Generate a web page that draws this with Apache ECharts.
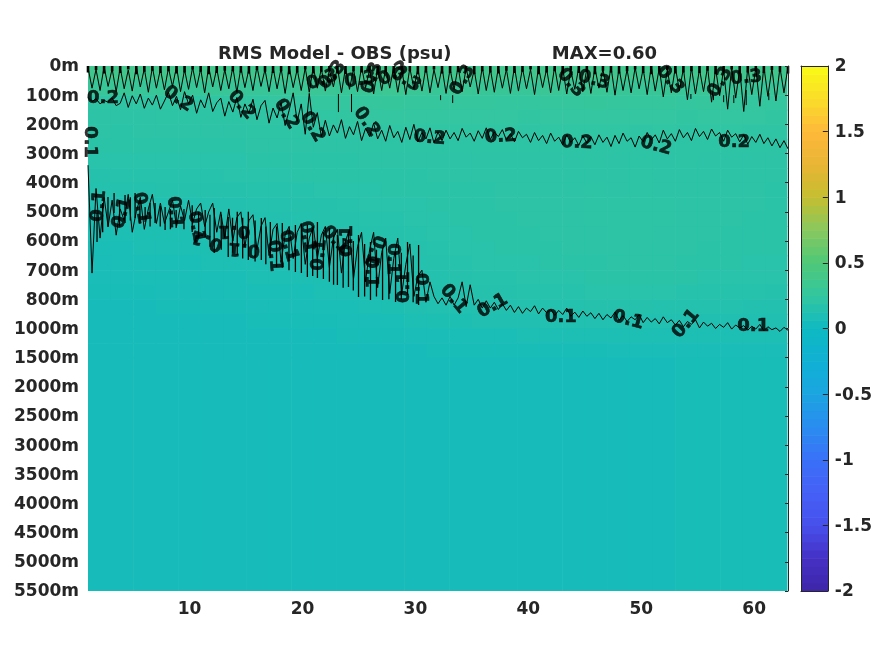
<!DOCTYPE html>
<html>
<head>
<meta charset="utf-8">
<style>html,body{margin:0;padding:0;background:#fff}#c{width:875px;height:656px}</style>
<script src="https://cdn.jsdelivr.net/npm/echarts@6/dist/echarts.min.js"></script>
</head>
<body>
<div id="c"></div>
<script>
const titleText = 'RMS Model - OBS (psu)                MAX=0.60';
const depthLabels = ['0m','100m','200m','300m','400m','500m','600m','700m','800m','1000m','1500m','2000m','2500m','3000m','3500m','4000m','4500m','5000m','5500m'];
const xTicks = [10,20,30,40,50,60];
const colourStops = ['#3e26a8','#4530c4','#4750ec','#4560f6','#3a70f8','#2a8cf0','#1ba4e0','#10b0d3','#0eb9c2','#33c6a0','#4ec878','#88c860','#c4be30','#e8b535','#feb83a','#fadc2a','#f9fb15'];

const colEdges = [1,3,5,7,9,11,13,15,17,19,21,23,25,27,29,31,33,35,37,39,41,43,45,47,49,51,53,55,57,59,61,62.9];
const rowEdges = [0,0.5,1,1.5,2,2.5,3,3.5,4,4.5,5,5.5,6,6.5,7,7.5,8,8.5,9,9.5,10,18];
const fieldRows = [
[.37,.38,.36,.38,.37,.39,.37,.36,.37,.38,.39,.37,.38,.39,.38,.36,.37,.36,.37,.36,.38,.37,.38,.37,.36,.37,.36,.38,.37,.36,.36],
[.30,.31,.30,.31,.30,.31,.30,.30,.31,.32,.32,.31,.32,.33,.32,.31,.32,.31,.31,.30,.32,.31,.32,.31,.30,.31,.30,.32,.31,.30,.30],
[.22,.22,.23,.23,.23,.23,.24,.24,.25,.25,.26,.26,.27,.28,.27,.27,.27,.27,.26,.26,.27,.27,.28,.27,.27,.27,.26,.27,.27,.26,.26],
[.20,.20,.20,.21,.21,.21,.21,.22,.22,.23,.23,.24,.25,.25,.25,.25,.25,.25,.25,.24,.25,.25,.25,.25,.25,.25,.24,.25,.25,.25,.24],
[.20,.19,.20,.20,.20,.20,.20,.21,.21,.21,.22,.22,.22,.23,.23,.23,.23,.23,.23,.22,.23,.23,.23,.23,.22,.23,.22,.23,.23,.22,.22],
[.19,.19,.19,.19,.19,.19,.19,.20,.20,.20,.20,.20,.21,.21,.21,.21,.21,.21,.21,.21,.21,.21,.21,.21,.21,.21,.21,.21,.21,.21,.21],
[.18,.18,.18,.18,.18,.18,.18,.19,.19,.19,.19,.19,.20,.20,.20,.20,.20,.20,.20,.20,.20,.20,.21,.20,.21,.20,.21,.20,.20,.20,.20],
[.16,.17,.17,.17,.17,.17,.18,.18,.18,.19,.19,.19,.19,.19,.19,.20,.20,.20,.20,.20,.20,.20,.20,.20,.21,.20,.20,.20,.20,.20,.20],
[.15,.15,.15,.16,.16,.16,.16,.17,.17,.17,.18,.18,.18,.19,.19,.19,.19,.19,.20,.20,.20,.20,.21,.20,.21,.20,.20,.20,.20,.20,.19],
[.12,.12,.13,.13,.13,.14,.14,.15,.15,.16,.16,.17,.18,.18,.18,.19,.19,.19,.20,.20,.20,.20,.21,.21,.21,.21,.20,.20,.20,.20,.19],
[.11,.11,.12,.12,.12,.13,.13,.14,.14,.15,.16,.16,.17,.17,.18,.18,.19,.19,.19,.20,.20,.20,.21,.21,.21,.21,.20,.20,.20,.19,.19],
[.10,.10,.11,.11,.11,.12,.12,.13,.13,.13,.14,.15,.16,.16,.17,.18,.18,.19,.19,.19,.20,.20,.20,.21,.21,.20,.20,.20,.19,.19,.19],
[.09,.09,.10,.10,.10,.11,.11,.11,.12,.12,.13,.14,.15,.15,.16,.17,.18,.18,.19,.19,.19,.20,.20,.20,.20,.20,.20,.19,.19,.19,.19],
[.08,.09,.09,.09,.09,.10,.10,.10,.11,.11,.12,.13,.13,.14,.15,.16,.17,.18,.18,.18,.19,.19,.19,.20,.20,.20,.19,.19,.19,.18,.18],
[.08,.08,.09,.09,.09,.09,.09,.10,.10,.10,.11,.11,.12,.13,.14,.15,.16,.17,.17,.18,.18,.18,.19,.19,.19,.19,.19,.18,.18,.18,.18],
[.07,.07,.07,.08,.08,.08,.09,.09,.09,.09,.10,.10,.11,.12,.13,.14,.15,.16,.16,.17,.17,.17,.18,.18,.18,.18,.17,.17,.17,.17,.16],
[.06,.06,.06,.07,.07,.07,.07,.08,.08,.08,.09,.09,.10,.11,.12,.13,.13,.14,.14,.15,.15,.15,.16,.16,.16,.15,.15,.15,.15,.14,.14],
[.06,.06,.06,.06,.06,.06,.06,.07,.07,.07,.07,.08,.08,.09,.10,.11,.11,.12,.12,.12,.13,.13,.13,.13,.13,.13,.13,.12,.12,.12,.12],
[.06,.06,.06,.06,.06,.06,.06,.06,.06,.06,.06,.07,.07,.07,.08,.08,.09,.09,.09,.10,.10,.10,.10,.10,.10,.10,.10,.10,.10,.10,.10],
[.06,.06,.06,.06,.06,.06,.06,.06,.06,.06,.06,.06,.06,.06,.06,.07,.07,.07,.07,.07,.07,.07,.07,.08,.08,.08,.08,.08,.08,.08,.08],
[.06,.06,.06,.06,.06,.06,.06,.06,.06,.06,.06,.06,.06,.06,.06,.06,.06,.06,.06,.06,.06,.06,.06,.06,.06,.06,.07,.07,.07,.07,.07],
[.06,.06,.06,.06,.06,.06,.06,.06,.06,.06,.06,.06,.06,.06,.06,.06,.06,.06,.06,.06,.06,.06,.06,.06,.06,.06,.06,.06,.06,.06,.06]
];

const contour03 = [
.05,.76,.12,.84,.03,.70,.10,.88,.06,.78,.14,.86,.02,.72,.09,.90,.04,.76,.11,.82,
.07,.70,.02,.88,.13,.80,.05,.74,.10,.92,.03,.72,.08,.84,.12,.78,.04,.90,.06,.74,
.10,.84,.02,.70,.12,.88,.05,.78,.08,.94,.03,.74,.11,.84,.06,.90,.02,.76,.09,.86,
.13,.72,.04,.92,.07,.80,.10,.88,.03,.74,.12,.96,.05,.84,.08,.76,.02,.90,.11,.98,
.06,.78,.09,.86,.03,.92,.12,.74,.05,.94,.10,.80,.02,.88,.07,.72,.13,.96,.04,.84,
.09,.90,.06,.76,.11,.94,.03,.86,.08,.78,.12,.98,.05,.74,.10,.92,.02,.84,.07,.96,
.13,.80,.04,.88,.09,.94,.06,.76,.11,.90,.03,1.00,.08,.84,.12,.92,.05,.78,.10,.98,
.02,.86,.07,1.06,.13,.92,.04,.84,.09,1.16,.06,.96,.11,.88,.03,1.24,.08,1.02,.12,1.48,
.05,1.10,.10,1.56,.04,.98,.07,1.38,.02,1.04,.08,1.20,.05,.92,.02];
const contour03Cap = [
.22,.14,.26,.18,.24,.12,.28,.20,.16,.24,.18,.26,.22,.12,.20,.28,.24,.16,.18,.22,
.26,.14,.20,.24,.18,.28,.22,.12,.26,.20,.16,.24,.28,.18,.22,.14,.26,.20,.24,.16,
.18,.28,.22,.12,.26,.24,.20,.14,.28,.18,.22,.26,.16,.24,.20,.12,.28,.22,.18,.26,
.14,.24,.20,.28,.16,.22,.26,.18,.12,.24,.28,.20,.14,.26,.22,.18,.24,.16,.28,.20,
.12,.26,.22,.18,.24,.14,.20,.26];
const contour03Islands = [[23.18,.96,1.58],[24.34,.96,1.58],[32.23,1,1.17],[33.3,1,1.27],[54.4,.96,1.13],[56.4,1,1.17],[57.3,1,1.24],[58.2,1,1.27],[59.3,.82,1.34],[61.3,.93,1.17]];
const contour02 = [
1.08,1.22,1.12,1.30,1.18,1.24,1.10,1.36,1.28,
.92,1.42,1.02,1.30,.96,1.45,1.10,1.34,1.00,1.48,1.20,
.90,1.36,1.04,1.50,.88,1.30,1.00,1.62,1.16,1.44,.92,1.56,1.26,
1.10,1.72,1.22,1.58,1.08,1.76,1.30,1.62,1.14,1.84,1.36,
1.18,1.96,1.44,1.78,1.26,2.04,1.52,.92,1.90,1.30,2.34,.94,2.10,1.60,2.42,
1.86,2.40,2.02,2.30,1.84,2.48,2.08,2.36,1.90,2.56,2.14,2.42,1.96,2.50,2.20,2.58,2.04,2.46,2.24,2.62,2.10,2.52,2.00,2.60,2.28,2.50,2.12,2.64,2.26,2.56,
2.20,2.50,2.28,2.56,2.14,2.44,2.30,2.58,2.22,2.48,2.12,2.52,2.26,2.42,2.18,2.54,2.32,2.60,2.24,2.46,2.34,2.62,2.28,2.56,2.38,2.66,2.30,2.58,2.44,2.70,2.36,2.62,2.46,2.72,2.40,2.64,
2.42,2.70,2.36,2.62,2.44,2.76,2.38,2.66,2.30,2.58,2.46,2.78,2.40,2.60,2.28,2.54,2.36,2.64,2.20,2.50,2.32,2.58,2.18,2.46,2.28,2.56,2.14,2.42,2.24,
2.52,2.16,2.40,2.28,2.58,2.20,2.44,2.32,2.60,2.36,2.68,2.42,2.62,2.34,2.66,2.46,2.74,2.50,2.80,2.56,2.84];
const contour01 = [
3.4,7.1,4.2,5.9,4.5,5.5,4.6,5.8,4.9,5.3,4.4,5.7,5.0,4.5,5.6,4.9,4.4,5.4,4.7,5.4,5.0,4.6,5.5,4.8,5.3,4.6,5.4,4.9,4.7,5.5,5.0,4.7,5.7,5.0,5.9,4.9,6.0,5.2,5.0,6.2,5.3,5.1,6.3,5.5,5.2,6.5,5.6,5.4,6.7,5.8,5.5,6.6,5.7,5.4,6.8,5.9,5.5,6.6,5.8,5.5,6.9,5.9,5.6,7.1,6.0,5.6,7.3,6.2,5.7,7.4,6.3,5.7,7.6,6.4,5.9,7.8,6.6,5.9,7.8,6.8,6.1,7.9,7.2,7.0,8.1,7.4,7.9,
8.15,7.95,8.2,7.9,8.2,7.95,7.4,8.25,7.5,8.2,8.0,8.3,8.05,8.3,8.1,8.35,
8.15,8.38,8.2,8.45,8.25,8.48,8.3,8.42,8.22,8.5,8.3,8.46,8.34,8.55,8.38,8.52,8.3,8.58,8.44,8.62,8.4,8.58,8.46,8.66,8.48,8.7,8.52,8.64,8.44,8.72,8.56,8.76,8.6,8.7,8.52,8.8,8.62,8.78,8.66,8.84,8.6,8.8,8.7,8.88,8.72,8.94,8.76,8.86,8.7,8.98,8.78,8.92,8.82,9.0,8.86,8.96,8.8,9.02,8.88,8.98,8.9,9.06,8.92,9.02,8.86,9.08,8.94,9.04,8.98,9.1,8.96,9.06];
const contour01Spikes = [[1.8,5.04,6.03],[2.77,4.49,5.52],[3.31,4.35,5.04],[4.28,4.42,5.38],[5.17,4.35,5.21],[6.06,4.83,5.35],[6.94,4.7,5.38],[7.83,4.83,5.62],[8.81,4.94,5.55],[10.23,4.77,5.69],[11.38,4.94,5.86],[12.18,4.87,6.41],[13.42,5.18,6.55],[14.22,5.0,6.48],[15.2,5.0,6.65],[16.35,5.21,6.65],[17.15,5.35,6.58],[18.21,5.38,6.92],[19.37,5.45,7.06],[20.43,5.45,7.23],[21.32,5.35,7.27],[22.38,5.55,7.4],[23.09,5.79,7.51],[24.07,5.69,7.58],[24.96,5.79,7.92],[26.02,6.03,8.02],[27.09,6.24,8.02],[28.24,6.38,8.09],[29.3,6.03,7.85],[30.28,6.14,8.19],
[2.3,4.7,5.7],[3.8,4.6,5.5],[4.75,4.5,5.3],[5.6,4.6,5.4],[6.5,4.7,5.5],[7.4,4.8,5.5],[8.3,4.9,5.6],[9.5,4.9,5.6],[10.8,5.0,5.9],[11.8,5.1,6.2],[12.8,5.1,6.3],[13.8,5.2,6.4],[14.7,5.2,6.6],[15.8,5.3,6.7],[16.75,5.5,6.8],[17.7,5.5,6.9],[18.8,5.6,7.0],[19.9,5.6,7.1],[20.9,5.6,7.2],[21.85,5.7,7.3],[22.75,5.8,7.5],[23.6,5.9,7.6],[24.5,6.0,7.7],[25.5,6.1,7.9],[26.55,6.3,7.9],[27.65,6.5,8.0],[28.75,6.4,8.0],[29.8,6.5,8.1]];

const labelX = [2.33,8.99,14.58,18.57,20.88,25.67,31.26,37.56,44.3,51.31,58.23, 21.76,22.65,25.13,26.2,28.06,29.13,34.19,43.77,45.81,52.55,56.99,59.3, 1.18,1.98,4.02,5.7,8.63,10.58,11.56,13.95,14.84,17.5,18.75,20.43,21.5,22.92,23.98,26.02,26.38,27.97,29.04,30.46,33.39,36.85,42.88,48.83,53.97,59.92];
const labelD = [1.10,1.13,1.34,1.65,2.09,1.92,2.47,2.43,2.64,2.74,2.61, .48,.31,.48,.41,.27,.48,.48,.58,.48,.48,.55,.41, 2.61,4.8,5.04,4.87,5.01,5.52,5.97,5.66,6.27,6.51,6.17,5.86,6.48,5.97,6.0,7.06,6.34,6.62,7.58,7.64,7.99,8.23,8.6,8.71,8.84,8.91];
const labelText = ['0.2','0.2','0.2','0.2','0.2','0.2','0.2','0.2','0.2','0.2','0.2', '0.3','0.3','0.3','0.3','0.3','0.3','0.3','0.3','0.3','0.3','0.3','0.3', '0.1','0.1','0.1','0.1','0.1','0.1','0.1','0.1','0.1','0.1','0.1','0.1','0.1','0.1','0.1','0.1','0.1','0.1','0.1','0.1','0.1','0.1','0.1','0.1','0.1','0.1'];
const labelRot = [0,-35,-50,-60,-60,-55,-5,3,-2,-15,0, 20,50,10,70,30,-30,60,-50,-15,-50,60,5, -90,85,75,-80,-85,-80,160,180,175,-85,-75,-80,85,-45,90,-90,-110,-90,90,-90,-50,30,0,-15,50,0];

const ink = '#262626';
const font = {fontFamily:'DejaVu Sans',fontWeight:'bold',fontSize:17,color:ink};

const fieldData = [];
fieldRows.forEach((row,r)=>row.forEach((v,c)=>fieldData.push([colEdges[c],colEdges[c+1],rowEdges[r],rowEdges[r+1],v])));
const bandData = [];
for(let i=0;i<64;i++){const lo=-2+i/16;bandData.push([0,1,lo,lo+1/16,lo+1/32]);}
const along = (arr)=>arr.map((d,i)=>[1+i*62/(arr.length-1),d]);
const strokes = (list)=>{const out=[];list.forEach(s=>{out.push([s[0],s[1]],[s[0],s[2]],[null,null]);});return out;};
const capStrokes = contour03Cap.map((d,i)=>[1+i*62/(contour03Cap.length-1),0,d]);

function renderCell(p,api){
  const a=api.coord([api.value(0),api.value(2)]),b=api.coord([api.value(1),api.value(3)]);
  return {type:'rect',shape:{x:Math.min(a[0],b[0]),y:Math.min(a[1],b[1]),width:Math.abs(b[0]-a[0])+.6,height:Math.abs(b[1]-a[1])+.6},style:{fill:api.visual('color')}};
}
const lineSeries=(name,data,w)=>({name,type:'line',xAxisIndex:0,yAxisIndex:0,data,showSymbol:false,symbol:'none',connectNulls:false,lineStyle:{color:'#000',width:w||0.9},z:5,animation:false,clip:true});

const chart = echarts.init(document.getElementById('c'),null,{renderer:'canvas'});
chart.setOption({
  animation:false,
  backgroundColor:'#fff',
  title:{text:titleText,left:432.5,textAlign:'center',top:40,textStyle:{fontFamily:'DejaVu Sans',fontWeight:'bold',fontSize:18,color:ink}},
  grid:[{left:88,top:66,width:700,height:525},{left:801,top:66,width:27,height:525}],
  xAxis:[
    {gridIndex:0,type:'value',min:1,max:63,position:'bottom',splitLine:{show:false},axisLine:{show:true,lineStyle:{color:ink,width:1}},axisTick:{show:false},axisLabel:Object.assign({margin:10,customValues:xTicks},font)},
    {gridIndex:1,type:'value',min:0,max:1,position:'bottom',splitLine:{show:false},axisLine:{show:true,onZero:false,lineStyle:{color:ink}},axisTick:{show:false},axisLabel:{show:false},z:6},
    {gridIndex:1,type:'value',min:0,max:1,position:'top',splitLine:{show:false},axisLine:{show:true,onZero:false,lineStyle:{color:ink}},axisTick:{show:false},axisLabel:{show:false},z:6}
  ],
  yAxis:[
    {gridIndex:0,type:'value',min:0,max:18,interval:1,inverse:true,position:'left',splitLine:{show:false},axisLine:{show:false},axisTick:{show:false},axisLabel:Object.assign({margin:9,verticalAlign:'top',lineHeight:2,formatter:v=>depthLabels[v]},font)},
    {gridIndex:0,type:'value',min:0,max:18,interval:1,inverse:true,position:'right',splitLine:{show:false},axisLine:{show:true,onZero:false,lineStyle:{color:ink}},axisTick:{show:true,inside:true,length:3,lineStyle:{color:ink}},axisLabel:{show:false},z:6},
    {gridIndex:1,type:'value',min:-2,max:2,interval:.5,position:'right',splitLine:{show:false},axisLine:{show:true,onZero:false,lineStyle:{color:ink}},axisTick:{show:true,inside:true,length:5,lineStyle:{color:ink}},axisLabel:Object.assign({margin:7,verticalAlign:'top',lineHeight:2,formatter:v=>String(v)},font),z:6},
    {gridIndex:1,type:'value',min:-2,max:2,interval:.5,position:'left',splitLine:{show:false},axisLine:{show:true,onZero:false,lineStyle:{color:ink}},axisTick:{show:false},axisLabel:{show:false},z:6}
  ],
  visualMap:{type:'continuous',show:false,min:-2,max:2,dimension:4,seriesIndex:[0,1],inRange:{color:colourStops}},
  series:[
    {name:'RMS field',type:'custom',xAxisIndex:0,yAxisIndex:0,renderItem:renderCell,encode:{x:[0,1],y:[2,3]},data:fieldData,clip:true,z:1,animation:false,silent:true},
    {name:'Colour bar',type:'custom',xAxisIndex:1,yAxisIndex:2,renderItem:renderCell,encode:{x:[0,1],y:[2,3]},data:bandData,clip:true,z:1,animation:false,silent:true},
    lineSeries('0.3 contour',along(contour03),1),
    lineSeries('0.3 contour cap',strokes(capStrokes),2.6),
    lineSeries('0.3 islands',strokes(contour03Islands),1),
    lineSeries('0.2 contour',along(contour02),1),
    lineSeries('0.1 contour',along(contour01),1),
    lineSeries('0.1 spikes',strokes(contour01Spikes),1.3),
    {name:'Contour labels',type:'scatter',xAxisIndex:0,yAxisIndex:0,symbolSize:0,z:7,silent:true,animation:false,
     data:labelX.map((x,i)=>({value:[x,labelD[i]],label:{show:true,position:'inside',formatter:labelText[i],rotate:labelRot[i],fontFamily:'DejaVu Sans',fontWeight:'bold',fontSize:18,color:'#000',textBorderColor:'#000',textBorderWidth:0.6,align:'center',verticalAlign:'middle'}}))}
  ]
});
</script>
</body>
</html>
